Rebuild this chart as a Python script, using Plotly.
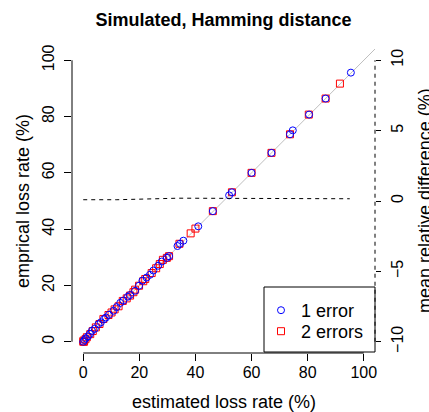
import plotly.graph_objects as go

# ---- data ----
one_err_est = [0.0, 0.4, 0.9, 1.7, 2.4, 3.1, 4.1, 5.4, 6.3, 7.4, 8.1, 9.2, 10.8, 11.9, 13.2, 14.3, 15.9, 16.7,
               18.5, 19.9, 21.1, 22.6, 23.8, 25.0, 26.7, 28.0, 29.8, 30.6, 33.6, 34.5, 35.7, 41.0, 46.2, 52.0,
               53.0, 60.0, 67.1, 73.7, 74.7, 80.5, 86.4, 95.4]
one_err_emp = [0.0, 0.6, 1.2, 1.9, 2.8, 3.9, 4.6, 6.2, 6.9, 8.0, 8.6, 9.6, 11.0, 12.3, 13.8, 14.6, 16.0, 16.6,
               18.1, 19.9, 21.7, 22.8, 23.8, 25.3, 27.0, 28.5, 29.8, 30.4, 34.0, 34.8, 35.9, 41.0, 46.4, 52.0,
               53.1, 60.0, 67.1, 73.7, 75.1, 80.7, 86.4, 95.6]

two_err_est = [0.0, 0.1, 0.3, 0.8, 1.3, 2.5, 3.4, 4.5, 5.8, 7.2, 9.0, 10.1, 11.2, 12.6, 14.1, 15.5, 16.7, 17.9,
               18.5, 19.9, 21.4, 22.1, 24.4, 26.0, 27.3, 28.4, 29.8, 30.6, 34.3, 38.3, 40.0, 46.2, 53.0, 60.0,
               67.1, 73.7, 80.4, 86.4, 91.5]
two_err_emp = [0.0, 0.4, 0.0, 0.9, 1.6, 2.7, 3.8, 5.1, 6.3, 8.1, 9.5, 10.4, 11.5, 12.6, 14.5, 15.4, 16.4, 17.6,
               18.5, 19.9, 21.5, 22.3, 24.4, 26.1, 27.6, 29.1, 29.8, 30.4, 34.8, 38.5, 40.2, 46.4, 53.1, 60.0,
               67.1, 73.7, 80.7, 86.4, 91.7]

mrd_x = [0, 12, 34, 50, 70, 95]
mrd_y = [0.09, 0.09, 0.2, 0.19, 0.17, 0.16]

rate_ticks = [0, 20, 40, 60, 80, 100]
mrd_ticks = [-10, -5, 0, 5, 10]

title = "Simulated, Hamming distance"
x_title = "estimated loss rate (%)"
y_title = "emprical loss rate (%)"
y2_title = "mean relative difference (%)"
names = ["1 error", "2 errors"]

# ---- figure ----
FONT = "Liberation Sans, Arial, Helvetica, sans-serif"
lo, hi = -4, 104
r_lo, r_hi = -10.8, 10.8
H = 304.0  # plot-area height in px
W = 303.0  # plot-area width in px

fig = go.Figure()
fig.add_trace(go.Scatter(x=[0, hi], y=[0, hi], mode="lines",
                         line=dict(color="#bebebe", width=1), showlegend=False, hoverinfo="skip"))
fig.add_trace(go.Scatter(x=mrd_x, y=mrd_y, mode="lines", yaxis="y2",
                         line=dict(color="black", width=1, dash="4px,4px"), showlegend=False))
fig.add_trace(go.Scatter(x=two_err_est, y=two_err_emp, mode="markers", name=names[1], legend="legend2",
                         marker=dict(symbol="square-open", size=7, color="#ff0000", line=dict(width=1))))
fig.add_trace(go.Scatter(x=one_err_est, y=one_err_emp, mode="markers", name=names[0], legend="legend",
                         marker=dict(symbol="circle-open", size=7, color="#0000ff", line=dict(width=1))))

axis_common = dict(showgrid=False, zeroline=False, showline=False, ticks="outside", ticklen=7,
                   tickwidth=1, tickcolor="black", tickfont=dict(size=16, color="black", family=FONT))

leg_common = dict(xanchor="left", yanchor="top", bgcolor="rgba(0,0,0,0)", borderwidth=0,
                  font=dict(size=18, family=FONT, color="black"))

fig.update_layout(
    width=429, height=412,
    margin=dict(l=72, r=54, t=49, b=59),
    paper_bgcolor="white", plot_bgcolor="white",
    font=dict(family=FONT, size=18, color="black"),
    title=dict(text="<b>" + title + "</b>", x=(72 + 375) / 2 / 429, xanchor="center",
               y=1 - 20 / 412, yanchor="middle", font=dict(size=18, family=FONT, color="black")),
    xaxis=dict(range=[lo, hi], tickvals=rate_ticks, ticklabelstandoff=-2, **axis_common),
    yaxis=dict(range=[lo, hi], tickvals=rate_ticks, tickangle=-90, ticklabelstandoff=4, **axis_common),
    yaxis2=dict(range=[r_lo, r_hi], tickvals=mrd_ticks, ticktext=[str(v).replace("-", "\u2212") for v in mrd_ticks],
                overlaying="y", side="right", tickangle=-90, ticklabelstandoff=3,
                **{**axis_common, "ticklen": 5}),
    showlegend=True,
    legend=dict(x=(261 - 72) / W, y=(353 - 292) / H, **leg_common),
    legend2=dict(x=(261 - 72) / W, y=(353 - 313) / H, **leg_common),
    shapes=[
        dict(type="line", xref="x", yref="paper", x0=0, x1=100, y0=0, y1=0, line=dict(color="black", width=1)),
        dict(type="line", xref="paper", yref="y", x0=0, x1=0, y0=0, y1=100, line=dict(color="black", width=1)),
        dict(type="line", xref="paper", yref="y2", x0=1, x1=1, y0=-10, y1=10,
             line=dict(color="black", width=1, dash="4px,4px")),
        dict(type="rect", xref="paper", yref="paper", x0=(264 - 72) / W, x1=1, y0=(353 - 352) / H,
             y1=(353 - 287) / H, line=dict(color="black", width=1), fillcolor="white", layer="below"),
    ],
    annotations=[
        dict(text=x_title, xref="paper", yref="paper", x=0.5, y=-(402 - 353) / H,
             xanchor="center", yanchor="middle", showarrow=False, font=dict(size=18)),
        dict(text=y_title, xref="paper", yref="paper", x=-(72 - 23) / W, y=0.5, textangle=-90,
             xanchor="center", yanchor="middle", showarrow=False, font=dict(size=18)),
        dict(text=y2_title, xref="paper", yref="paper", x=1 + (425 - 375) / W, y=0.5, textangle=-90,
             xanchor="center", yanchor="middle", showarrow=False, font=dict(size=18)),
    ],
)

fig.write_html("out.html", config={"displayModeBar": False},
               post_script="document.body.style.margin='0';document.body.style.overflow='hidden';")
